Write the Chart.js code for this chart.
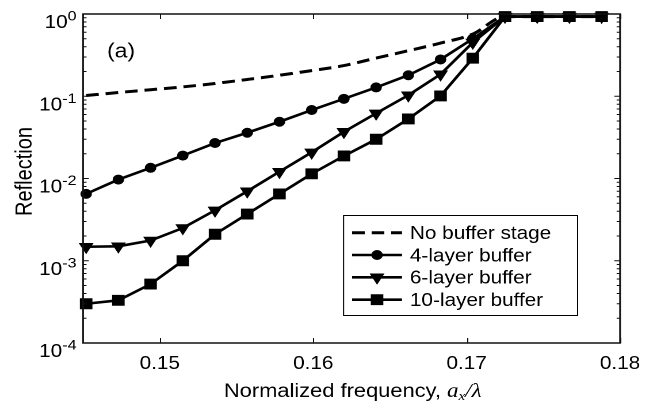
<!DOCTYPE html>
<html><head><meta charset="utf-8">
<script src="https://cdn.jsdelivr.net/npm/chart.js@4.4.1/dist/chart.umd.min.js"></script>
<style>
html,body{margin:0;padding:0;background:#fff;overflow:hidden;}
#wrap{width:571px;height:407px;transform:scaleX(1.1506);transform-origin:0 0;}
canvas{display:block;}
</style></head><body>
<div id="wrap"><canvas id="c" width="571" height="407"></canvas></div>
<script>
// ---- data ----
const freq = [0.1452,0.1473,0.1494,0.1515,0.1536,0.1557,0.1578,0.1599,0.1620,0.1641,0.1662,0.1683,0.1704,0.1725,0.1746,0.1767,0.1788];
const noBuffer = [0.102,0.111,0.120,0.130,0.143,0.160,0.180,0.205,0.236,0.291,0.358,0.443,0.57,0.93,0.93,0.93,0.93];
const layer4 = [0.0065,0.0097,0.0135,0.019,0.027,0.036,0.049,0.068,0.093,0.128,0.18,0.28,0.50,0.93,0.93,0.93,0.93];
const layer6 = [0.00148,0.0015,0.00176,0.0025,0.0041,0.0070,0.0121,0.0208,0.037,0.062,0.103,0.185,0.45,0.93,0.93,0.93,0.93];
const layer10 = [0.0003,0.00033,0.00052,0.0010,0.0021,0.0037,0.0065,0.0114,0.0188,0.030,0.053,0.101,0.29,0.93,0.93,0.93,0.93];
const seriesLabels = ['No buffer stage','4-layer buffer','6-layer buffer','10-layer buffer'];
const xTicks = [0.15,0.16,0.17,0.18];
const yTicks = [1e-4,1e-3,1e-2,1e-1,1];
const yExponents = ['-4','-3','-2','-1','0'];
const xTitle = 'Normalized frequency, ';
const yTitle = 'Reflection';
const panelLabel = '(a)';

const FONT = '"Liberation Sans", Arial, Helvetica, sans-serif';
const SERIF = '"Liberation Serif", "Times New Roman", serif';

function pts(arr){ return freq.map((f,i)=>({x:f,y:arr[i]})); }

function mark(ctx, style, r, rot, x, y){
  if (Chart.helpers && Chart.helpers.drawPoint) {
    Chart.helpers.drawPoint(ctx, {pointStyle:style, radius:r, rotation:rot, borderWidth:1}, x, y);
    return;
  }
}

const decor = {
  id:'decor',
  afterDatasetsDraw(chart){
    const {ctx, chartArea:a, scales:{x, y}} = chart;
    ctx.save();
    ctx.strokeStyle = '#111';
    ctx.lineWidth = 1;
    ctx.beginPath();
    xTicks.forEach(v=>{
      const px = Math.round(x.getPixelForValue(v))+0.5;
      ctx.moveTo(px, a.bottom); ctx.lineTo(px, a.bottom-5);
      ctx.moveTo(px, a.top); ctx.lineTo(px, a.top+5);
    });
    for (let d=-4; d<=0; d++){
      const py = y.getPixelForValue(Math.pow(10,d));
      ctx.moveTo(a.left, py); ctx.lineTo(a.left+5, py);
      ctx.moveTo(a.right, py); ctx.lineTo(a.right-5, py);
      if (d<0){
        for (let m=2;m<=9;m++){
          const pm = y.getPixelForValue(m*Math.pow(10,d));
          ctx.moveTo(a.left, pm); ctx.lineTo(a.left+3, pm);
          ctx.moveTo(a.right, pm); ctx.lineTo(a.right-3, pm);
        }
      }
    }
    ctx.stroke();
    ctx.lineWidth = 1.5;
    ctx.strokeStyle = '#111';
    ctx.strokeRect(a.left, a.top, a.right-a.left, a.bottom-a.top);
    ctx.restore();
  },
  afterDraw(chart){
    const {ctx, chartArea:a, scales:{y}} = chart;
    ctx.save();
    ctx.fillStyle = '#000';
    // y tick labels 10^n
    yTicks.forEach((v,i)=>{
      const py = y.getPixelForValue(v);
      const right = 66.5;
      ctx.font = '14px '+FONT;
      ctx.textAlign = 'right';
      ctx.textBaseline = 'alphabetic';
      const ew = ctx.measureText(yExponents[i]).width;
      ctx.fillText(yExponents[i], right, py+6.5);
      ctx.font = '18px '+FONT;
      ctx.fillText('10', right-ew, py+14);
    });
    // y title
    ctx.save();
    ctx.translate(27.5, 171.5);
    ctx.rotate(-Math.PI/2);
    ctx.font = '20px '+FONT;
    ctx.textAlign = 'center';
    ctx.textBaseline = 'alphabetic';
    ctx.fillText(yTitle, 0, 0);
    ctx.restore();
    // x title with math part
    const parts = [
      {t:xTitle, f:'19px '+FONT, dy:0},
      {t:'a', f:'italic 20px '+SERIF, dy:0},
      {t:'x', f:'italic 13px '+SERIF, dy:3},
      {t:'/', f:'italic 20px '+SERIF, dy:0},
      {t:'\u03bb', f:'italic 20px '+SERIF, dy:0}
    ];
    let tot = 0;
    parts.forEach(p=>{ctx.font=p.f; p.w=ctx.measureText(p.t).width; tot+=p.w;});
    let sx = (a.left+a.right)/2 + 1 - tot/2;
    ctx.textAlign='left'; ctx.textBaseline='alphabetic';
    parts.forEach(p=>{ctx.font=p.f; ctx.fillText(p.t, sx, 397+p.dy); sx+=p.w;});
    // panel label
    ctx.font = '20px '+FONT;
    ctx.fillText(panelLabel, 93, 57.5);
    // legend
    const lx=298.1, ly=215, lw=203.4, lh=100;
    ctx.fillStyle='#fff'; ctx.fillRect(lx,ly,lw,lh);
    ctx.strokeStyle='#000'; ctx.lineWidth=1; ctx.strokeRect(lx+0.5,ly+0.5,lw,lh);
    const rows=[232.7,255,277.3,299.7];
    chart.data.datasets.forEach((ds,i)=>{
      const ry = rows[i];
      ctx.save();
      ctx.strokeStyle='#000';
      ctx.lineWidth = ds.borderWidth;
      ctx.setLineDash(ds.borderDash || []);
      ctx.beginPath(); ctx.moveTo(306,ry); ctx.lineTo(349.4,ry); ctx.stroke();
      ctx.setLineDash([]);
      if (ds.pointRadius>0){
        ctx.fillStyle='#000'; ctx.strokeStyle='#000'; ctx.lineWidth=1;
        mark(ctx, ds.pointStyle, ds.pointRadius, ds.pointRotation||0, 327.7, ry);
      }
      ctx.restore();
      ctx.fillStyle='#000';
      ctx.font='18px '+FONT;
      ctx.textAlign='left'; ctx.textBaseline='alphabetic';
      ctx.fillText(ds.label, 356.3, ry+6.4);
    });
    ctx.restore();
  }
};

new Chart(document.getElementById('c'), {
  type:'line',
  data:{datasets:[
    {label:seriesLabels[0], data:pts(noBuffer), borderColor:'#000', borderWidth:3, borderDash:[11,6], pointRadius:0, cubicInterpolationMode:'monotone', order:3, clip:false},
    {label:seriesLabels[1], data:pts(layer4), borderColor:'#000', borderWidth:2.6, pointStyle:'circle', pointRadius:4.5, pointBackgroundColor:'#000', pointBorderColor:'#000', pointBorderWidth:1, order:2, clip:false},
    {label:seriesLabels[2], data:pts(layer6), borderColor:'#000', borderWidth:2.6, pointStyle:'triangle', pointRotation:180, pointRadius:6.5, pointBackgroundColor:'#000', pointBorderColor:'#000', pointBorderWidth:1, order:1, clip:false},
    {label:seriesLabels[3], data:pts(layer10), borderColor:'#000', borderWidth:2.6, pointStyle:'rect', pointRadius:7, pointBackgroundColor:'#000', pointBorderColor:'#000', pointBorderWidth:1, order:0, clip:false}
  ]},
  options:{
    responsive:false, animation:false, devicePixelRatio:2,
    layout:{padding:{top:14, right:32.1, left:0, bottom:0}},
    plugins:{legend:{display:false}, tooltip:{enabled:false}},
    scales:{
      x:{type:'linear', min:0.145, max:0.18,
         afterBuildTicks:s=>{s.ticks = xTicks.map(v=>({value:v}));},
         afterFit:s=>{s.height=64;},
         grid:{display:false, drawTicks:false}, border:{display:false},
         ticks:{font:{family:FONT,size:18}, color:'#000', padding:10, maxRotation:0, autoSkip:false, callback:v=>Number(v).toFixed(2)}},
      y:{type:'logarithmic', min:1e-4, max:1,
         afterBuildTicks:s=>{s.ticks = yTicks.map(v=>({value:v}));},
         afterFit:s=>{s.width=72.2;},
         grid:{display:false, drawTicks:false}, border:{display:false},
         ticks:{display:false}}
    }
  },
  plugins:[decor]
});
</script>
</body></html>
